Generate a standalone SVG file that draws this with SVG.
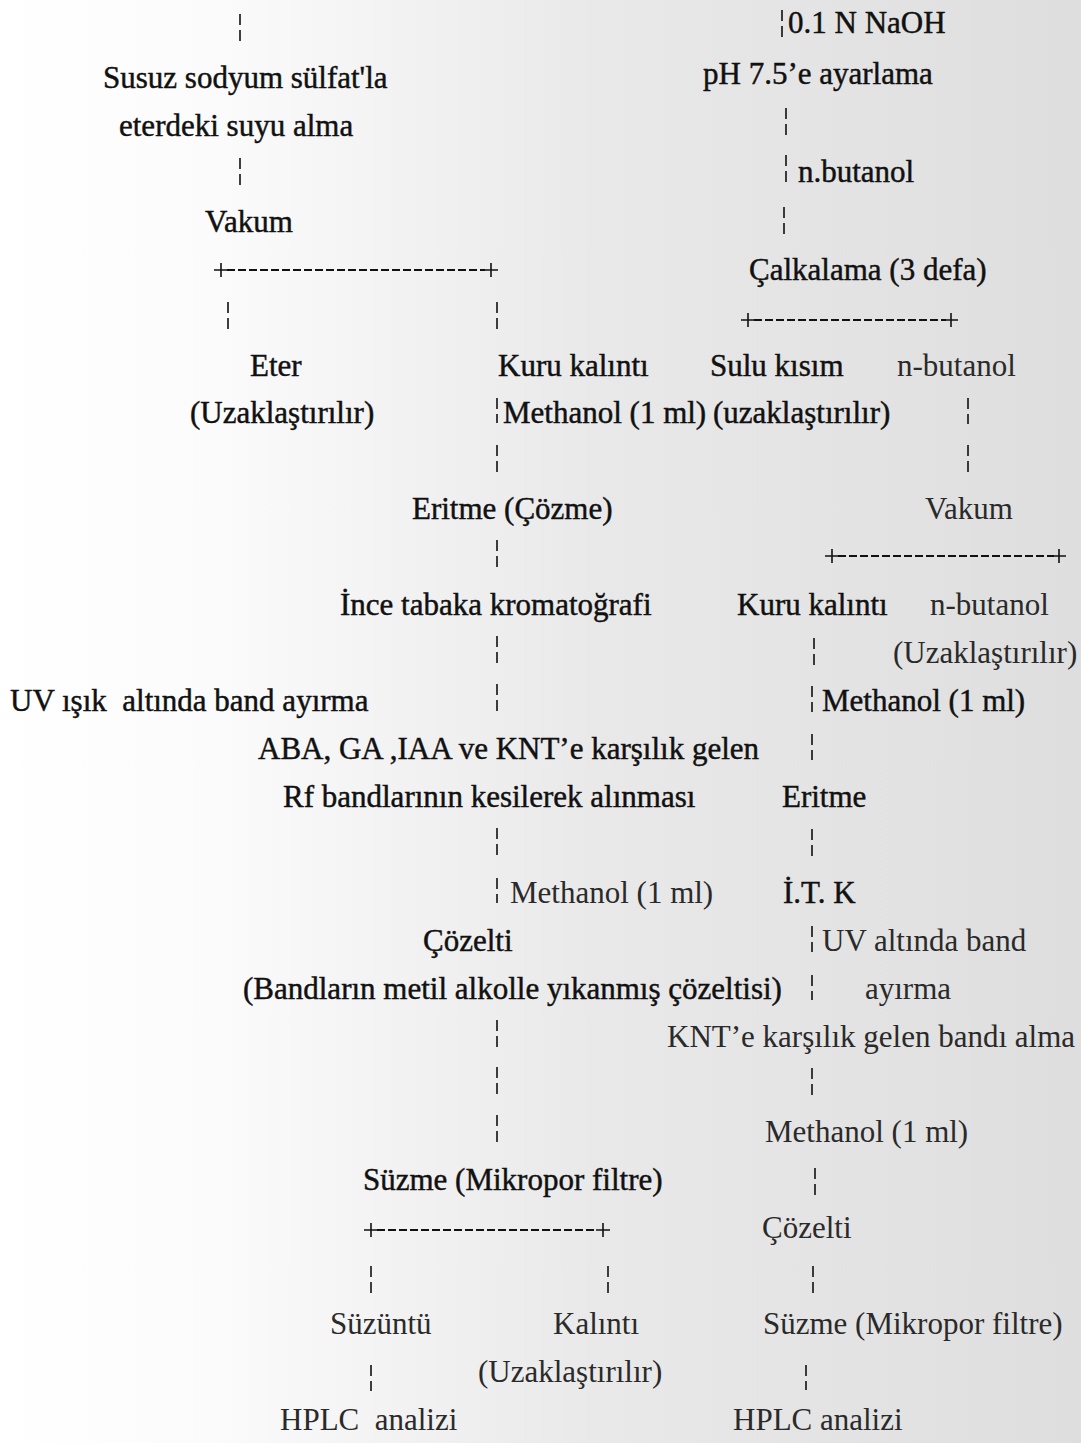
<svg xmlns="http://www.w3.org/2000/svg" width="1081" height="1443" viewBox="0 0 1081 1443">
<defs>
<linearGradient id="bg" x1="0" y1="0" x2="1" y2="0">
<stop offset="0" stop-color="#ffffff"/>
<stop offset="0.2" stop-color="#fbfbfb"/>
<stop offset="0.55" stop-color="#e9e9e9"/>
<stop offset="1" stop-color="#dedede"/>
</linearGradient>
<style>
text{font-family:"Liberation Serif","Times New Roman",serif;font-size:31px;fill:#111;white-space:pre}
.dk{stroke:#111;stroke-width:0.45}
.lt{fill:#2a2a2a}
.v{stroke:#111;stroke-width:1.6;stroke-dasharray:11 5;fill:none}
.h{stroke:#111;stroke-width:1.8;stroke-dasharray:8 3;fill:none}
.p{stroke:#111;stroke-width:1.6;fill:none}
</style>
</defs>
<rect x="0" y="0" width="1081" height="1443" fill="url(#bg)"/>

<g id="connectors">
<!-- top-left column -->
<line class="v" x1="240" y1="14" x2="240" y2="42"/>
<line class="v" x1="240" y1="158" x2="240" y2="188"/>
<!-- top-right column -->
<line class="v" x1="782" y1="10" x2="782" y2="38"/>
<line class="v" x1="786" y1="108" x2="786" y2="138"/>
<line class="v" x1="786" y1="155" x2="786" y2="184"/>
<line class="v" x1="784" y1="207" x2="784" y2="236"/>
<!-- branch 1 -->
<path class="h" d="M227,270 H485"/>
<path class="p" d="M214,270 H228 M221,263 V277 M484,270 H498 M491,263 V277"/>
<line class="v" x1="228" y1="302" x2="228" y2="330"/>
<line class="v" x1="497" y1="302" x2="497" y2="330"/>
<!-- branch 2 -->
<path class="h" d="M754,320 H946"/>
<path class="p" d="M741,320 H755 M748,313 V327 M944,320 H958 M951,313 V327"/>
<!-- left-centre column -->
<line class="v" x1="497" y1="398" x2="497" y2="423"/>
<line class="v" x1="497" y1="445" x2="497" y2="472"/>
<line class="v" x1="497" y1="540" x2="497" y2="568"/>
<line class="v" x1="497" y1="636" x2="497" y2="664"/>
<line class="v" x1="497" y1="684" x2="497" y2="712"/>
<line class="v" x1="497" y1="828" x2="497" y2="856"/>
<line class="v" x1="497" y1="878" x2="497" y2="903"/>
<line class="v" x1="497" y1="1020" x2="497" y2="1048"/>
<line class="v" x1="497" y1="1067" x2="497" y2="1095"/>
<line class="v" x1="497" y1="1115" x2="497" y2="1143"/>
<!-- n-butanol right -->
<line class="v" x1="968" y1="398" x2="968" y2="424"/>
<line class="v" x1="968" y1="445" x2="968" y2="472"/>
<!-- branch 3 -->
<path class="h" d="M838,556 H1054"/>
<path class="p" d="M825,556 H839 M832,549 V563 M1052,556 H1066 M1059,549 V563"/>
<!-- right column lower -->
<line class="v" x1="814" y1="638" x2="814" y2="665"/>
<line class="v" x1="812" y1="686" x2="812" y2="712"/>
<line class="v" x1="812" y1="734" x2="812" y2="760"/>
<line class="v" x1="812" y1="829" x2="812" y2="856"/>
<line class="v" x1="812" y1="926" x2="812" y2="952"/>
<line class="v" x1="812" y1="975" x2="812" y2="1000"/>
<line class="v" x1="812" y1="1068" x2="812" y2="1095"/>
<line class="v" x1="815" y1="1168" x2="815" y2="1196"/>
<line class="v" x1="813" y1="1266" x2="813" y2="1293"/>
<line class="v" x1="806" y1="1365" x2="806" y2="1390"/>
<!-- branch 4 -->
<path class="h" d="M377,1230 H597"/>
<path class="p" d="M364,1230 H378 M371,1223 V1237 M596,1230 H610 M603,1223 V1237"/>
<line class="v" x1="371" y1="1266" x2="371" y2="1294"/>
<line class="v" x1="608" y1="1266" x2="608" y2="1294"/>
<line class="v" x1="371" y1="1365" x2="371" y2="1391"/>
</g>

<g id="n-susuz"><text class="dk" x="103" y="88">Susuz sodyum sülfat'la</text><text class="dk" x="119" y="136">eterdeki suyu alma</text></g>
<g id="n-vakum1"><text class="dk" x="205" y="232">Vakum</text></g>
<g id="n-naoh"><text class="dk" x="788" y="33">0.1 N NaOH</text></g>
<g id="n-ph"><text class="dk" x="703" y="84">pH 7.5’e ayarlama</text></g>
<g id="n-nbutanol1"><text class="dk" x="798" y="182">n.butanol</text></g>
<g id="n-calkalama"><text class="dk" x="749" y="280">Çalkalama (3 defa)</text></g>
<g id="n-eter"><text class="dk" x="250" y="376">Eter</text><text class="dk" x="190" y="423">(Uzaklaştırılır)</text></g>
<g id="n-kuru1"><text class="dk" x="498" y="376">Kuru kalıntı</text></g>
<g id="n-methanol1"><text class="dk" x="503" y="423">Methanol (1 ml)</text></g>
<g id="n-sulu"><text class="dk" x="710" y="376">Sulu kısım</text><text class="dk" x="713" y="423">(uzaklaştırılır)</text></g>
<g id="n-nbutanol2"><text class="lt" x="897" y="376">n-butanol</text></g>
<g id="n-eritme1"><text class="dk" x="412" y="519">Eritme (Çözme)</text></g>
<g id="n-vakum2"><text class="lt" x="925" y="519">Vakum</text></g>
<g id="n-ince"><text class="dk" x="340" y="615">İnce tabaka kromatoğrafi</text></g>
<g id="n-kuru2"><text class="dk" x="737" y="615">Kuru kalıntı</text></g>
<g id="n-nbutanol3"><text class="lt" x="930" y="615">n-butanol</text><text class="lt" x="893" y="663">(Uzaklaştırılır)</text></g>
<g id="n-uv1"><text class="dk" x="10" y="711">UV ışık  altında band ayırma</text></g>
<g id="n-methanol2"><text class="dk" x="822" y="711">Methanol (1 ml)</text></g>
<g id="n-aba"><text class="dk" x="258" y="759">ABA, GA ,IAA ve KNT’e karşılık gelen</text><text class="dk" x="283" y="807">Rf bandlarının kesilerek alınması</text></g>
<g id="n-eritme2"><text class="dk" x="782" y="807">Eritme</text></g>
<g id="n-methanol3"><text class="lt" x="510" y="903">Methanol (1 ml)</text></g>
<g id="n-itk"><text class="dk" x="783" y="903">İ.T. K</text></g>
<g id="n-cozelti1"><text class="dk" x="423" y="951">Çözelti</text><text class="dk" x="243" y="999">(Bandların metil alkolle yıkanmış çözeltisi)</text></g>
<g id="n-uv2"><text class="lt" x="822" y="951">UV altında band</text><text class="lt" x="865" y="999">ayırma</text></g>
<g id="n-knt"><text class="lt" x="667" y="1047">KNT’e karşılık gelen bandı alma</text></g>
<g id="n-methanol4"><text class="lt" x="765" y="1142">Methanol (1 ml)</text></g>
<g id="n-suzme1"><text class="dk" x="363" y="1190">Süzme (Mikropor filtre)</text></g>
<g id="n-cozelti2"><text class="lt" x="762" y="1238">Çözelti</text></g>
<g id="n-suzuntu"><text class="lt" x="330" y="1334">Süzüntü</text></g>
<g id="n-kalinti"><text class="lt" x="553" y="1334">Kalıntı</text><text class="lt" x="478" y="1382">(Uzaklaştırılır)</text></g>
<g id="n-suzme2"><text class="lt" x="763" y="1334">Süzme (Mikropor filtre)</text></g>
<g id="n-hplc1"><text class="lt" x="280" y="1430">HPLC  analizi</text></g>
<g id="n-hplc2"><text class="lt" x="733" y="1430">HPLC analizi</text></g>
</svg>
